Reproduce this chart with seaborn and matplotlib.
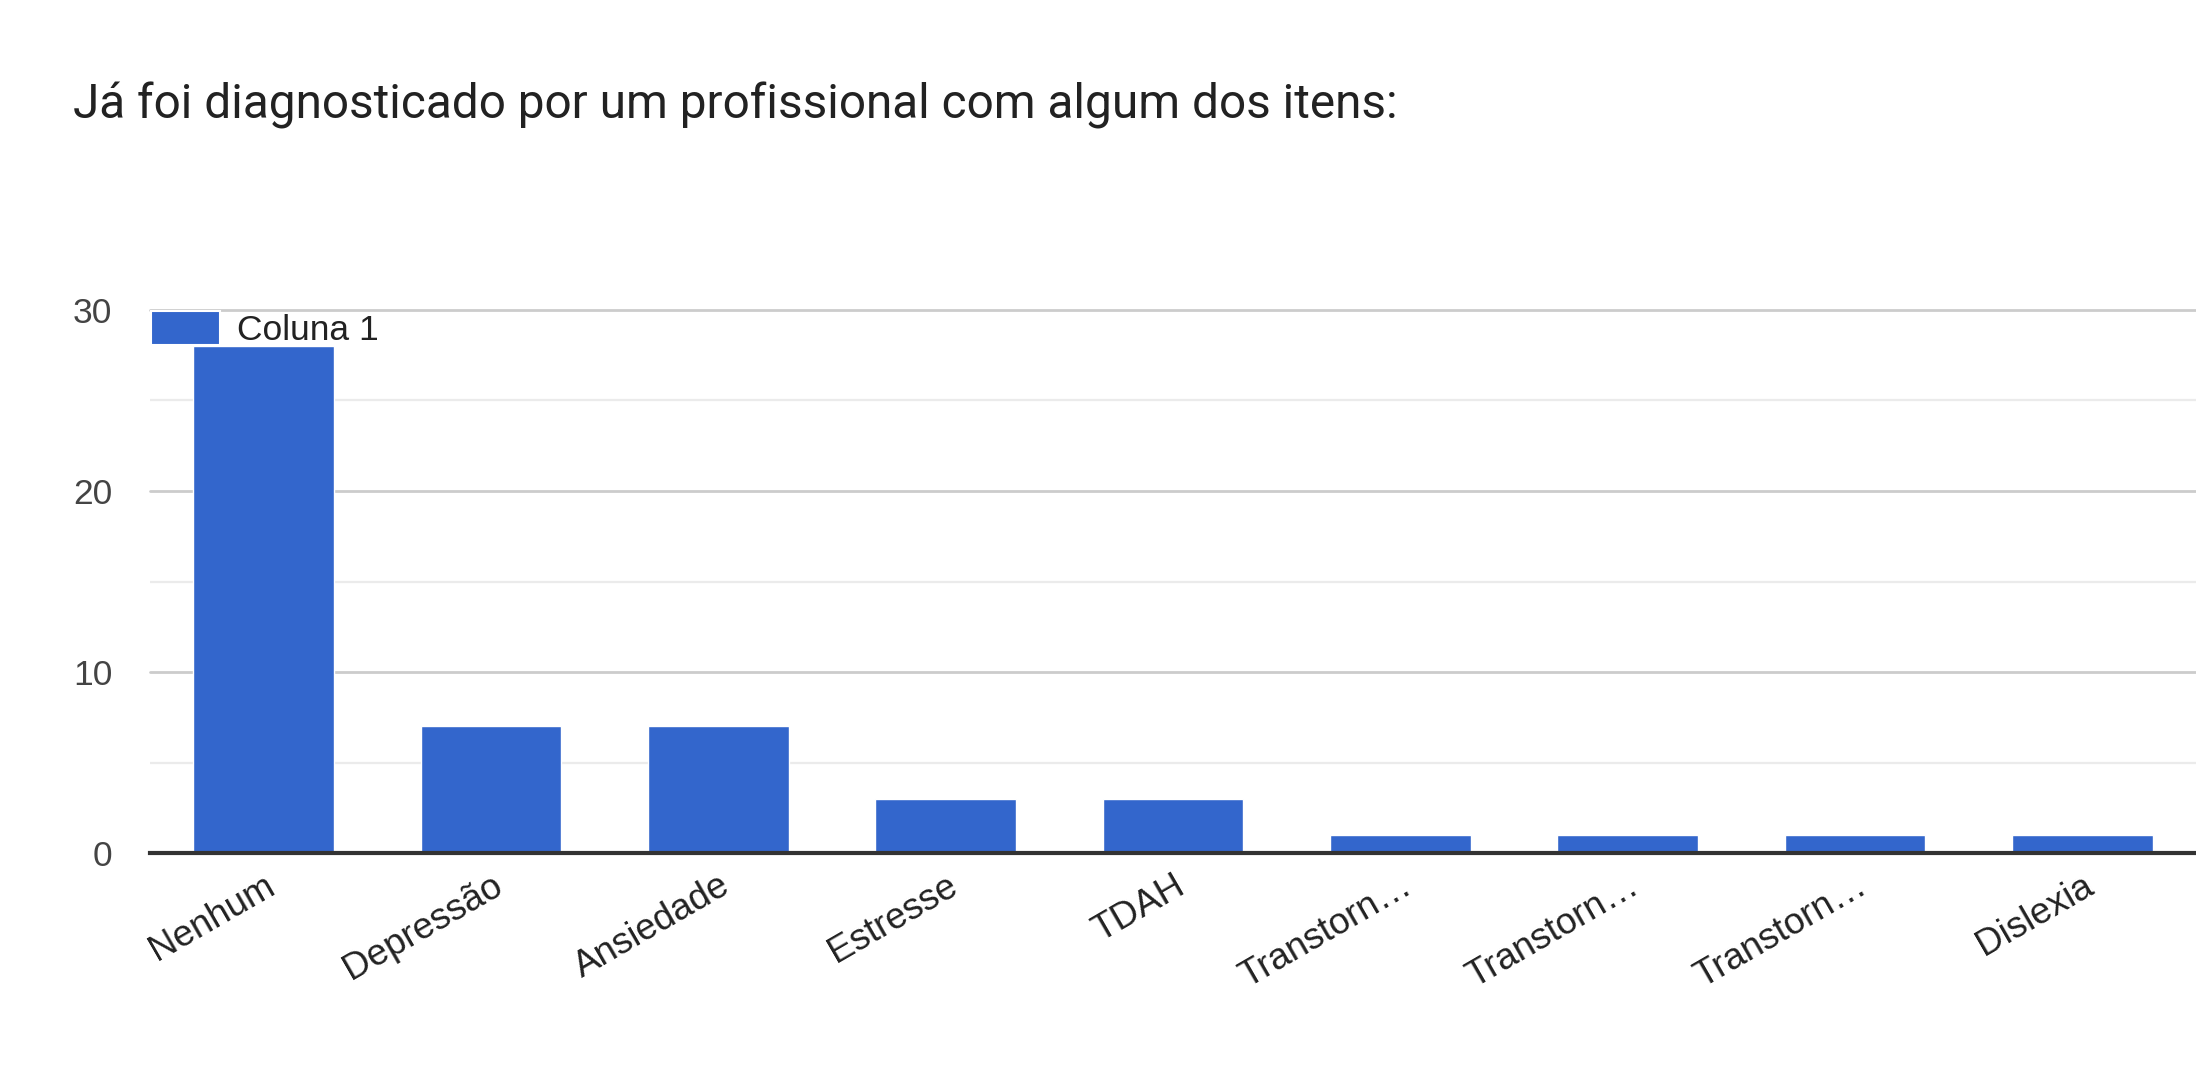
import numpy as np
import pandas as pd
import seaborn as sns
import matplotlib.pyplot as plt
from matplotlib.ticker import MultipleLocator

# Chart data
labels = ["Nenhum", "Depressão", "Ansiedade", "Estresse", "TDAH",
          "Transtorn…", "Transtorn…", "Transtorn…", "Dislexia"]
counts = [28, 7, 7, 3, 3, 1, 1, 1, 1]
series = "Coluna 1"
title = "Já foi diagnosticado por um profissional com algum dos itens:"

df = pd.DataFrame({"pos": np.arange(len(labels)), "count": counts, "serie": series})

sns.set_style("white")
plt.rcParams["font.family"] = ["Liberation Sans", "DejaVu Sans"]

fig = plt.figure(figsize=(21.96, 10.74), dpi=100)
ax = fig.add_axes([150 / 2196, 1 - 853 / 1074, 1 - 150 / 2196, (853 - 310) / 1074])

sns.barplot(data=df, x="pos", y="count", hue="serie", palette=["#3366cc"],
            width=0.62, saturation=1, ax=ax, zorder=3)

ax.set_xlim(-0.5, len(labels) - 0.5)
ax.set_ylim(0, 30)
ax.yaxis.set_major_locator(MultipleLocator(10))
ax.yaxis.set_minor_locator(MultipleLocator(5))
ax.grid(which="major", axis="y", color="#cccccc", linewidth=2, zorder=0)
ax.grid(which="minor", axis="y", color="#ebebeb", linewidth=1.6, zorder=0)
ax.grid(axis="x", visible=False)
for g in ax.get_ygridlines():
    g.set_clip_on(False)

for s in ["top", "right", "left"]:
    ax.spines[s].set_visible(False)
ax.spines["bottom"].set_color("#333333")
ax.spines["bottom"].set_linewidth(3)
ax.spines["bottom"].set_zorder(4)

ax.set_xticks(range(len(labels)))
ax.set_xticklabels(labels, rotation=30, ha="right", rotation_mode="anchor",
                   fontsize=26.5, color="#222222")
ax.tick_params(axis="x", length=0, pad=11)
ax.tick_params(axis="y", which="both", length=0, pad=27, labelsize=25.5, labelcolor="#444444")
ax.set_xlabel("")
ax.set_ylabel("")

leg = ax.legend(loc="upper left", bbox_to_anchor=(0, 1), borderaxespad=0.02, borderpad=0,
                frameon=False, fontsize=25.5, handlelength=1.95, handleheight=1.1,
                handletextpad=0.5)
for h in leg.legend_handles:
    h.set_edgecolor("white")
    h.set_linewidth(1.5)
for t in leg.get_texts():
    t.set_color("#222222")
leg.set_zorder(5)

fig.text(73 / 2196, 1 - 105 / 1074, title, fontsize=34.4, color="#222222",
         va="center", ha="left", family=["Roboto", "DejaVu Sans"])

fig.savefig("out.png", dpi=100, facecolor="white")
